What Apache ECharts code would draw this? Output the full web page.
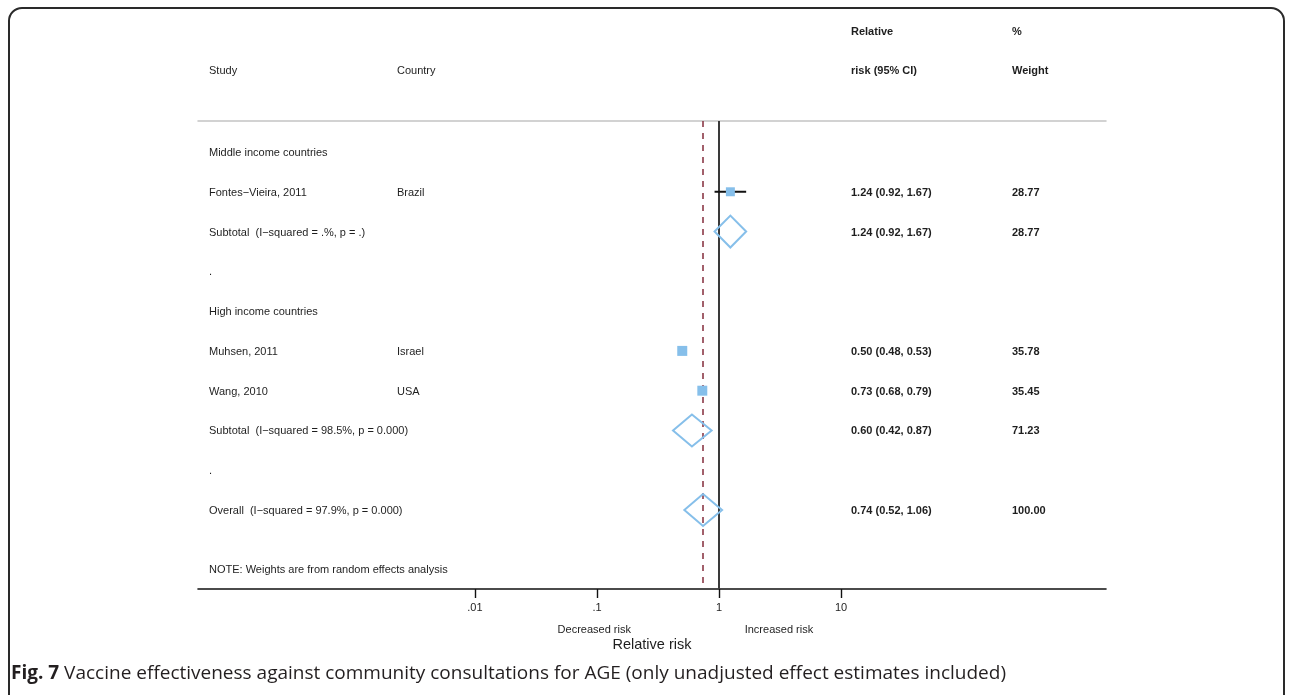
<!DOCTYPE html>
<html>
<head>
<meta charset="utf-8">
<script src="https://cdn.jsdelivr.net/npm/echarts@6/dist/echarts.min.js"></script>
<style>
html, body { margin: 0; padding: 0; background: #fff; }
#chart { width: 1292px; height: 695px; }
</style>
</head>
<body>
<div id="chart"></div>
<script>
// individual studies
var studyNames = ['Fontes\u2212Vieira, 2011', 'Muhsen, 2011', 'Wang, 2010'];
var studyCountries = ['Brazil', 'Israel', 'USA'];
var studyRR = [1.24, 0.50, 0.73];
var studyLo = [0.92, 0.48, 0.68];
var studyHi = [1.67, 0.53, 0.79];
var studyWeight = [28.77, 35.78, 35.45];
var studyRow = [1, 5, 6];

// pooled estimates (subtotals + overall)
var pooledNames = ['Subtotal  (I\u2212squared = .%, p = .)', 'Subtotal  (I\u2212squared = 98.5%, p = 0.000)', 'Overall  (I\u2212squared = 97.9%, p = 0.000)'];
var pooledRR = [1.24, 0.60, 0.74];
var pooledLo = [0.92, 0.42, 0.52];
var pooledHi = [1.67, 0.87, 1.06];
var pooledWeight = [28.77, 71.23, 100.00];
var pooledRow = [2, 7, 9];

// group headings and spacer rows
var groupNames = ['Middle income countries', '.', 'High income countries', '.'];
var groupRow = [0, 3, 4, 8];

var noteText = 'NOTE: Weights are from random effects analysis';
var noteRow = 10.48;

var tickValues = [0.01, 0.1, 1, 10];
var tickLabels = ['.01', '.1', '1', '10'];
var directionNames = ['Decreased risk', 'Increased risk'];
var directionAt = [0.095, 3.1];

var overallRR = 0.74;

// layout (pixels)
var colStudy = 209, colCountry = 397, colCI = 851, colWeight = 1012;
var txt = '#1e1e1e';
var blue = '#86bfea';
var font = 'Liberation Sans, Arial, sans-serif';

function lg(v) { return Math.log10(v); }
function fmt(v) { return v.toFixed(2); }

var studyData = studyRR.map(function (rr, i) {
  return [studyRow[i], lg(studyLo[i]), lg(rr), lg(studyHi[i]), studyWeight[i]];
});
var pooledData = pooledRR.map(function (rr, i) {
  return [pooledRow[i], lg(pooledLo[i]), lg(rr), lg(pooledHi[i]), pooledWeight[i]];
});

// text rows: [row, label, country, ci, weight]
var textRows = [];
groupNames.forEach(function (n, i) { textRows.push([groupRow[i], n, '', '', '']); });
studyNames.forEach(function (n, i) {
  textRows.push([studyRow[i], n, studyCountries[i],
    fmt(studyRR[i]) + ' (' + fmt(studyLo[i]) + ', ' + fmt(studyHi[i]) + ')', fmt(studyWeight[i])]);
});
pooledNames.forEach(function (n, i) {
  textRows.push([pooledRow[i], n, '',
    fmt(pooledRR[i]) + ' (' + fmt(pooledLo[i]) + ', ' + fmt(pooledHi[i]) + ')', fmt(pooledWeight[i])]);
});
textRows.push([noteRow, noteText, '', '', '']);

function t(x, y, s, bold) {
  return {
    type: 'text', x: x, y: y,
    style: { text: s, fill: txt, font: (bold ? 'bold ' : '') + '11px ' + font, verticalAlign: 'middle', align: 'left' }
  };
}

var chart = echarts.init(document.getElementById('chart'));
var option = {
  animation: false,
  backgroundColor: '#fff',
  grid: { left: 198, right: 186, top: 121, bottom: 106 },
  xAxis: [
    {
      type: 'value', min: -4.27, max: 3.172,
      axisLine: { show: true, onZero: false, lineStyle: { color: '#111', width: 1.6 } },
      axisTick: { show: true, inside: false, length: 9, customValues: tickValues.map(lg), lineStyle: { color: '#111', width: 1.4 } },
      axisLabel: {
        customValues: tickValues.map(lg), margin: 13, color: txt, fontSize: 11, fontFamily: font,
        formatter: function (v) {
          for (var i = 0; i < tickValues.length; i++) if (Math.abs(lg(tickValues[i]) - v) < 1e-6) return tickLabels[i];
          return '';
        }
      },
      splitLine: { show: false },
      name: 'Relative risk', nameLocation: 'middle', nameGap: 48,
      nameTextStyle: { color: txt, fontSize: 14.5, fontFamily: font }
    },
    {
      type: 'value', min: -4.27, max: 3.172, position: 'bottom', offset: 27,
      axisLine: { show: false, onZero: false }, axisTick: { show: false }, splitLine: { show: false },
      axisLabel: {
        customValues: directionAt.map(lg), margin: 8, color: txt, fontSize: 11, fontFamily: font,
        formatter: function (v) { return v < 0 ? directionNames[0] : directionNames[1]; }
      }
    },
    {
      type: 'value', min: -4.27, max: 3.172, position: 'top',
      axisLine: { show: true, onZero: false, lineStyle: { color: '#c4c4c4', width: 1.5 } },
      axisTick: { show: false }, axisLabel: { show: false }, splitLine: { show: false }
    }
  ],
  yAxis: { type: 'value', min: -0.779, max: 10.985, inverse: true, show: false, splitLine: { show: false } },
  series: [
    {
      type: 'line', data: [], silent: true,
      markLine: {
        symbol: 'none', silent: true, label: { show: false },
        data: [
          { xAxis: 0, lineStyle: { color: '#3a3a3a', width: 2, type: 'solid' } },
          { xAxis: lg(overallRR), lineStyle: { color: '#8c3a48', width: 1.6, type: [6, 6] } }
        ]
      }
    },
    {
      // CI whiskers and weight boxes
      type: 'custom', z: 5,
      encode: { x: [1, 2, 3], y: 0 },
      data: studyData,
      renderItem: function (params, api) {
        var lo = api.coord([api.value(1), api.value(0)]);
        var mid = api.coord([api.value(2), api.value(0)]);
        var hi = api.coord([api.value(3), api.value(0)]);
        var s = 10 * Math.sqrt(api.value(4) / 35.78);
        return {
          type: 'group', children: [
            { type: 'line', shape: { x1: lo[0], y1: lo[1], x2: hi[0], y2: hi[1] }, style: { stroke: '#111', lineWidth: 2 } },
            { type: 'rect', shape: { x: mid[0] - s / 2, y: mid[1] - s / 2, width: s, height: s }, style: { fill: blue } }
          ]
        };
      }
    },
    {
      // pooled diamonds
      type: 'custom', z: 5,
      encode: { x: [1, 2, 3], y: 0 },
      data: pooledData,
      renderItem: function (params, api) {
        var lo = api.coord([api.value(1), api.value(0)]);
        var mid = api.coord([api.value(2), api.value(0)]);
        var hi = api.coord([api.value(3), api.value(0)]);
        var h = 16;
        return {
          type: 'polygon',
          shape: { points: [[lo[0], lo[1]], [mid[0], mid[1] - h], [hi[0], hi[1]], [mid[0], mid[1] + h]] },
          style: { fill: 'none', stroke: blue, lineWidth: 2 }
        };
      }
    },
    {
      // table text, rows placed through the y axis
      type: 'custom', z: 6, silent: true,
      encode: { y: 0 },
      data: textRows,
      renderItem: function (params, api) {
        var row = textRows[params.dataIndex];
        var y = api.coord([0, row[0]])[1] + 1;
        var kids = [t(colStudy, y, row[1], false)];
        if (row[2]) kids.push(t(colCountry, y, row[2], false));
        if (row[3]) kids.push(t(colCI, y, row[3], true));
        if (row[4]) kids.push(t(colWeight, y, row[4], true));
        return { type: 'group', children: kids };
      }
    }
  ],
  graphic: [
    { type: 'rect', shape: { x: 9, y: 8, width: 1275, height: 740, r: 13 }, style: { fill: 'none', stroke: '#2a2a2a', lineWidth: 2 }, z: 10 },
    t(colStudy, 71, 'Study', false),
    t(colCountry, 71, 'Country', false),
    t(colCI, 32, 'Relative', true),
    t(colCI, 71, 'risk (95% CI)', true),
    t(colWeight, 32, '%', true),
    t(colWeight, 71, 'Weight', true),
    {
      type: 'text', x: 11, y: 674,
      style: {
        text: '{b|Fig. 7} Vaccine effectiveness against community consultations for AGE (only unadjusted effect estimates included)',
        fill: '#231f20', font: '19px Open Sans, sans-serif', verticalAlign: 'middle',
        rich: { b: { fontWeight: 'bold', fontSize: 19, fontFamily: 'Open Sans', fill: '#231f20' } }
      }
    }
  ]
};
chart.setOption(option);
</script>
</body>
</html>
